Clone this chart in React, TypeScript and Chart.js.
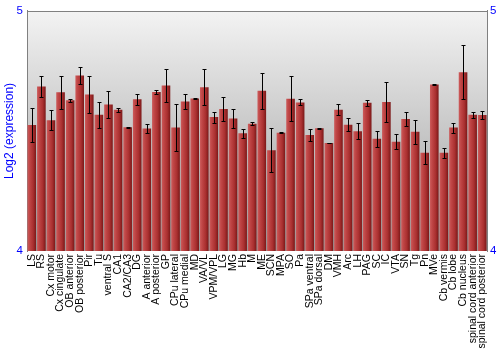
import React, { useEffect, useRef } from "react";
import { Chart, registerables } from "chart.js";

Chart.register(...registerables);

const categories = [
  "LS", "RS", "Cx motor", "Cx cingulate", "OB anterior", "OB posterior", "Pir", "Tu",
  "ventral S", "CA1", "CA2/CA3", "DG", "A anterior", "A posterior", "GP", "CPu lateral",
  "CPu medial", "MD", "VA/VL", "VPM/VPL", "LG", "MG", "Hb", "M",
  "ME", "SCN", "MPA", "SO", "Pa", "SPa ventral", "SPa dorsal", "DM",
  "VMH", "Arc", "LH", "PAG", "SC", "IC", "VTA", "SN",
  "Tg", "Pn", "MVe", "Cb vermis", "Cb lobe", "Cb nucleus", "spinal cord anterior", "spinal cord posterior",
];

const expression = [
  4.525, 4.685, 4.545, 4.661, 4.628, 4.731, 4.652, 4.567, 4.610, 4.588,
  4.515, 4.632, 4.510, 4.662, 4.689, 4.514, 4.623, 4.635, 4.682, 4.558,
  4.591, 4.552, 4.490, 4.530, 4.667, 4.420, 4.493, 4.634, 4.619, 4.483,
  4.511, 4.450, 4.588, 4.526, 4.499, 4.617, 4.467, 4.621, 4.455, 4.550,
  4.497, 4.409, 4.693, 4.409, 4.514, 4.745, 4.567, 4.566,
];

const errors = [
  0.070, 0.042, 0.041, 0.068, 0.006, 0.036, 0.076, 0.054, 0.056, 0.009,
  0.002, 0.023, 0.017, 0.007, 0.070, 0.099, 0.030, 0.003, 0.076, 0.023,
  0.050, 0.040, 0.019, 0.006, 0.074, 0.092, 0.001, 0.094, 0.012, 0.024,
  0.003, 0.001, 0.023, 0.026, 0.034, 0.012, 0.034, 0.083, 0.031, 0.031,
  0.050, 0.048, 0.003, 0.021, 0.021, 0.111, 0.013, 0.017,
];

const yTicks = [4, 5];

const FONT = "'Liberation Sans', Arial, sans-serif";
const BAR_PCT = 0.9;

const bgPlugin = {
  id: "bgGradient",
  beforeDraw(chart: any) {
    const { ctx, chartArea } = chart;
    if (!chartArea) return;
    const g = ctx.createLinearGradient(0, chartArea.top, 0, chartArea.bottom);
    g.addColorStop(0, "#f3f3f3");
    g.addColorStop(1, "#9c9c9c");
    ctx.save();
    ctx.fillStyle = g;
    ctx.fillRect(chartArea.left, chartArea.top, chartArea.right - chartArea.left, chartArea.bottom - chartArea.top);
    ctx.restore();
  },
  afterDraw(chart: any) {
    const { ctx, chartArea } = chart;
    ctx.save();
    ctx.strokeStyle = "#808080";
    ctx.lineWidth = 1;
    ctx.beginPath();
    const y = Math.round(chartArea.top) + 0.5;
    ctx.moveTo(chartArea.left, y);
    ctx.lineTo(chartArea.right, y);
    ctx.stroke();
    ctx.restore();
  },
};

const errorBarPlugin = {
  id: "errorBars",
  afterDatasetsDraw(chart: any) {
    const { ctx } = chart;
    const ys = chart.scales.y;
    const meta = chart.getDatasetMeta(0);
    ctx.save();
    ctx.strokeStyle = "#000000";
    ctx.lineWidth = 1;
    meta.data.forEach((bar: any, i: number) => {
      const v = expression[i];
      const e = errors[i];
      const x = Math.round(bar.x) + 0.5;
      const yt = Math.round(ys.getPixelForValue(v + e)) + 0.5;
      const yb = Math.round(ys.getPixelForValue(v - e)) + 0.5;
      ctx.beginPath();
      ctx.moveTo(x, yt);
      ctx.lineTo(x, yb);
      ctx.moveTo(x - 2, yt);
      ctx.lineTo(x + 2, yt);
      ctx.moveTo(x - 2, yb);
      ctx.lineTo(x + 2, yb);
      ctx.stroke();
    });
    ctx.restore();
  },
};

export default function App() {
  const ref = useRef<HTMLCanvasElement | null>(null);

  useEffect(() => {
    document.body.style.margin = "0";
    if (!ref.current) return;
    const chart = new Chart(ref.current, {
      type: "bar",
      data: {
        labels: categories,
        datasets: [
          {
            data: expression,
            barPercentage: BAR_PCT,
            categoryPercentage: 1,
            borderWidth: 0,
            backgroundColor: (c: any) => {
              const chart = c.chart;
              const xs = chart.scales && chart.scales.x;
              if (!chart.chartArea || !xs || c.type !== "data") return "#b03838";
              const cx = xs.getPixelForValue(c.dataIndex);
              const w = (xs.width / categories.length) * BAR_PCT;
              const g = chart.ctx.createLinearGradient(cx - w / 2, 0, cx + w / 2, 0);
              g.addColorStop(0, "#cc5c5c");
              g.addColorStop(0.25, "#c04646");
              g.addColorStop(0.65, "#aa3030");
              g.addColorStop(1, "#7a1818");
              return g;
            },
          },
        ],
      },
      options: {
        animation: false,
        responsive: false,
        events: [],
        layout: { padding: { top: 9, left: 0, right: 0, bottom: 0 } },
        plugins: { legend: { display: false }, tooltip: { enabled: false } },
        scales: {
          x: {
            grid: { display: false, drawTicks: false },
            border: { display: false },
            ticks: {
              autoSkip: false,
              maxRotation: 90,
              minRotation: 90,
              padding: 3,
              color: "#000000",
              font: { family: FONT, size: 10.5 },
            },
            afterFit: (s: any) => {
              s.height = 99;
            },
          },
          y: {
            position: "left",
            min: 4,
            max: 5,
            afterBuildTicks: (s: any) => {
              s.ticks = yTicks.map((v) => ({ value: v }));
            },
            grid: { display: false, drawTicks: false },
            border: { display: true, color: "#808080", width: 1 },
            ticks: {
              color: "#0000ff",
              padding: 4,
              font: { family: FONT, size: 11.5 },
            },
            title: {
              display: true,
              text: "Log2 (expression)",
              color: "#0000ff",
              font: { family: FONT, size: 12 },
              padding: { top: 2, bottom: 0 },
            },
            afterFit: (s: any) => {
              s.width = 27;
            },
          },
          y2: {
            position: "right",
            min: 4,
            max: 5,
            afterBuildTicks: (s: any) => {
              s.ticks = yTicks.map((v) => ({ value: v }));
            },
            grid: { display: false, drawTicks: false },
            border: { display: true, color: "#808080", width: 1 },
            ticks: {
              color: "#0000ff",
              padding: 3,
              font: { family: FONT, size: 11.5 },
            },
            afterFit: (s: any) => {
              s.width = 13;
            },
          },
        },
      },
      plugins: [bgPlugin, errorBarPlugin],
    } as any);
    return () => chart.destroy();
  }, []);

  return (
    <div style={{ position: "absolute", left: 0, top: 0, width: 500, height: 350 }}>
      <canvas ref={ref} width={500} height={350} />
    </div>
  );
}
